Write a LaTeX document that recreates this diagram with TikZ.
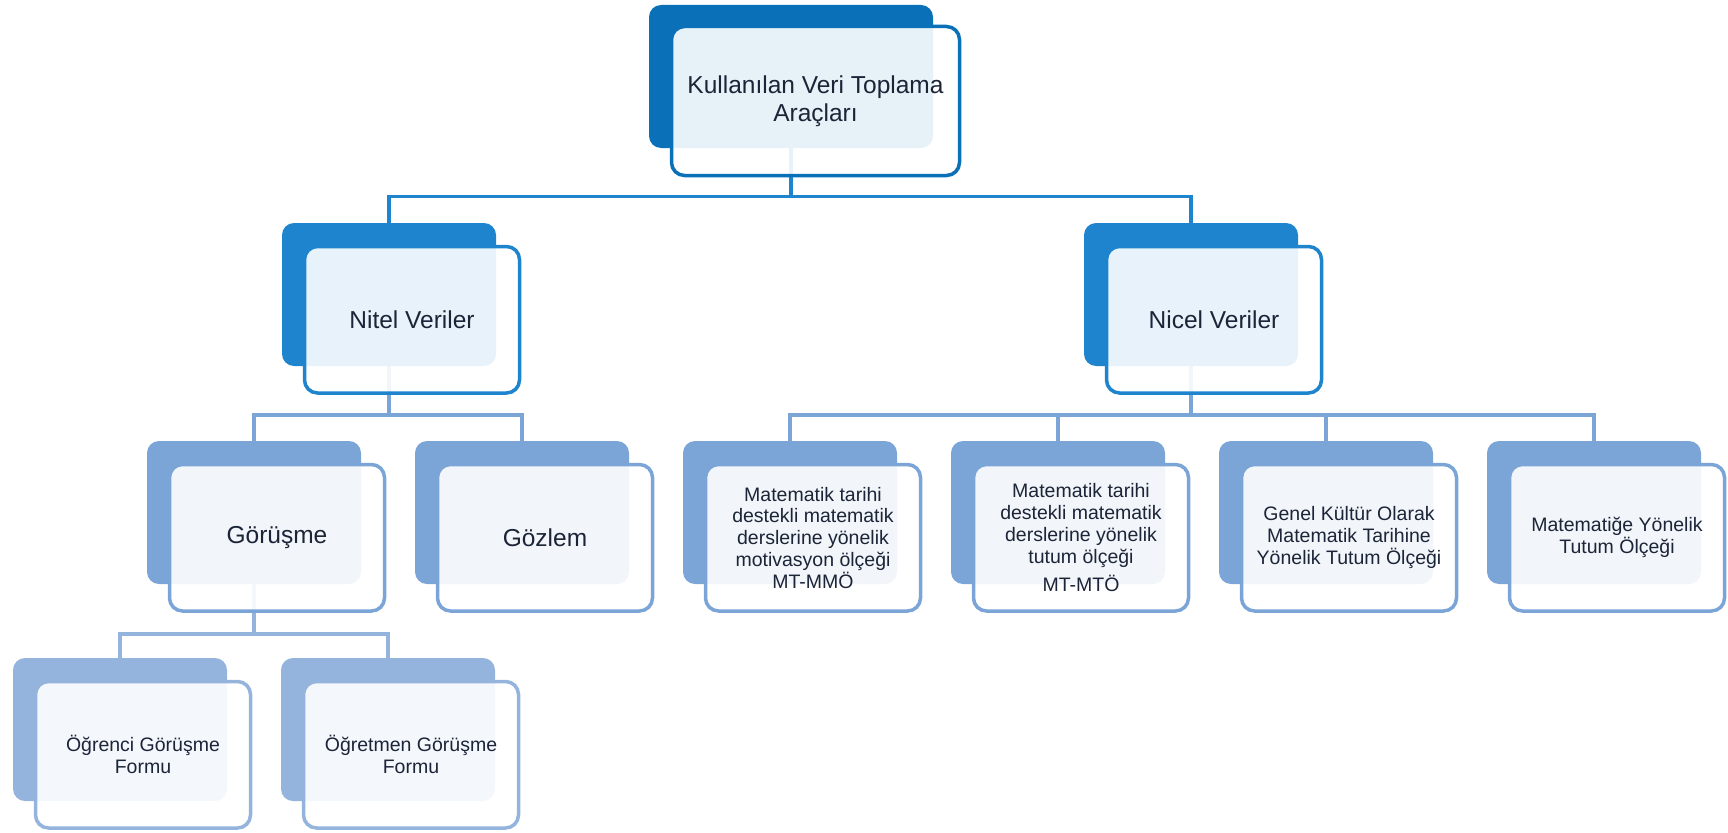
\documentclass[tikz,border=0pt]{standalone}
\usepackage{fontspec}
\setmainfont{Liberation Sans}
\pgfdeclarelayer{links}
\pgfsetlayers{links,main}

\definecolor{topblue}{HTML}{0A71B8}
\definecolor{midblue}{HTML}{1E84CD}
\definecolor{lowblue}{HTML}{7BA5D6}
\definecolor{leafblue}{HTML}{95B4DD}
\definecolor{inktext}{HTML}{1C2438}

\tikzset{
  backcard/.style={rectangle, rounded corners=12pt, fill=#1, draw=none,
    minimum width=214pt, minimum height=143pt, inner sep=0pt, outer sep=0pt},
  frontcard/.style={rectangle, rounded corners=13pt, draw=#1, line width=3.5pt,
    fill=white, fill opacity=0.9, text opacity=1, text=inktext,
    minimum width=215pt, minimum height=146.5pt, inner sep=0pt, outer sep=0pt,
    align=center},
  bigtext/.style={font=\fontsize{24.5}{27.5}\selectfont},
  smalltext/.style={font=\fontsize{19.5}{21.8}\selectfont},
  link/.style={draw=#1, line width=3.5pt},
}

\begin{document}
\begin{tikzpicture}[x=1pt, y=-1pt]
\useasboundingbox (0,0) rectangle (1728,832);

% ---- root ----
\node[backcard=topblue, minimum width=284pt] (root-b) at (791,76.5) {};
\node[frontcard=topblue, bigtext, minimum width=288pt, minimum height=149pt]
  (root) at (815.5,101) {Kullanılan Veri Toplama\\Araçları};

% ---- first level ----
\node[backcard=midblue] (nitel-b) at (389,294.5) {};
\node[frontcard=midblue, bigtext] (nitel) at (412,319.75) {Nitel Veriler};
\node[backcard=midblue] (nicel-b) at (1191,294.5) {};
\node[frontcard=midblue, bigtext] (nicel) at (1214,319.75) {Nicel Veriler};

% ---- second level ----
\node[backcard=lowblue] (gor-b) at (254,512.5) {};
\node[frontcard=lowblue, bigtext] (gor) at (277,537.75) {Görüşme};
\node[backcard=lowblue] (goz-b) at (522,512.5) {};
\node[frontcard=lowblue, bigtext] (goz) at (545,537.75) {Gözlem};
\node[backcard=lowblue] (mmo-b) at (790,512.5) {};
\node[frontcard=lowblue, smalltext] (mmo) at (813,537.75)
  {Matematik tarihi\\destekli matematik\\derslerine yönelik\\motivasyon ölçeği\\MT-MMÖ};
\node[backcard=lowblue] (mto-b) at (1058,512.5) {};
\node[frontcard=lowblue, smalltext] (mto) at (1081,537.75)
  {Matematik tarihi\\destekli matematik\\derslerine yönelik\\tutum ölçeği\\[7pt]MT-MTÖ};
\node[backcard=lowblue] (gk-b) at (1326,512.5) {};
\node[frontcard=lowblue, smalltext] (gk) at (1349,537.75)
  {Genel Kültür Olarak\\Matematik Tarihine\\Yönelik Tutum Ölçeği};
\node[backcard=lowblue] (myt-b) at (1594,512.5) {};
\node[frontcard=lowblue, smalltext] (myt) at (1617,537.75)
  {Matematiğe Yönelik\\Tutum Ölçeği};

% ---- third level ----
\node[backcard=leafblue] (ogr-b) at (120,729.5) {};
\node[frontcard=leafblue, smalltext] (ogr) at (143,754.75) {Öğrenci Görüşme\\Formu};
\node[backcard=leafblue] (ogt-b) at (388,729.5) {};
\node[frontcard=leafblue, smalltext] (ogt) at (411,754.75) {Öğretmen Görüşme\\Formu};

% ---- connectors, kept behind the cards ----
\begin{pgfonlayer}{links}
  \draw[link=midblue] (root-b.south) -- ++(0,48.5) -| (nitel-b.north);
  \draw[link=midblue] (root-b.south) -- ++(0,48.5) -| (nicel-b.north);

  \draw[link=lowblue] (nitel-b.south) -- ++(0,49) -| (gor-b.north);
  \draw[link=lowblue] (nitel-b.south) -- ++(0,49) -| (goz-b.north);

  \draw[link=lowblue] (nicel-b.south) -- ++(0,49) -| (mmo-b.north);
  \draw[link=lowblue] (nicel-b.south) -- ++(0,49) -| (mto-b.north);
  \draw[link=lowblue] (nicel-b.south) -- ++(0,49) -| (gk-b.north);
  \draw[link=lowblue] (nicel-b.south) -- ++(0,49) -| (myt-b.north);

  \draw[link=leafblue] (gor-b.south) -- ++(0,50) -| (ogr-b.north);
  \draw[link=leafblue] (gor-b.south) -- ++(0,50) -| (ogt-b.north);
\end{pgfonlayer}
\end{tikzpicture}
\end{document}
